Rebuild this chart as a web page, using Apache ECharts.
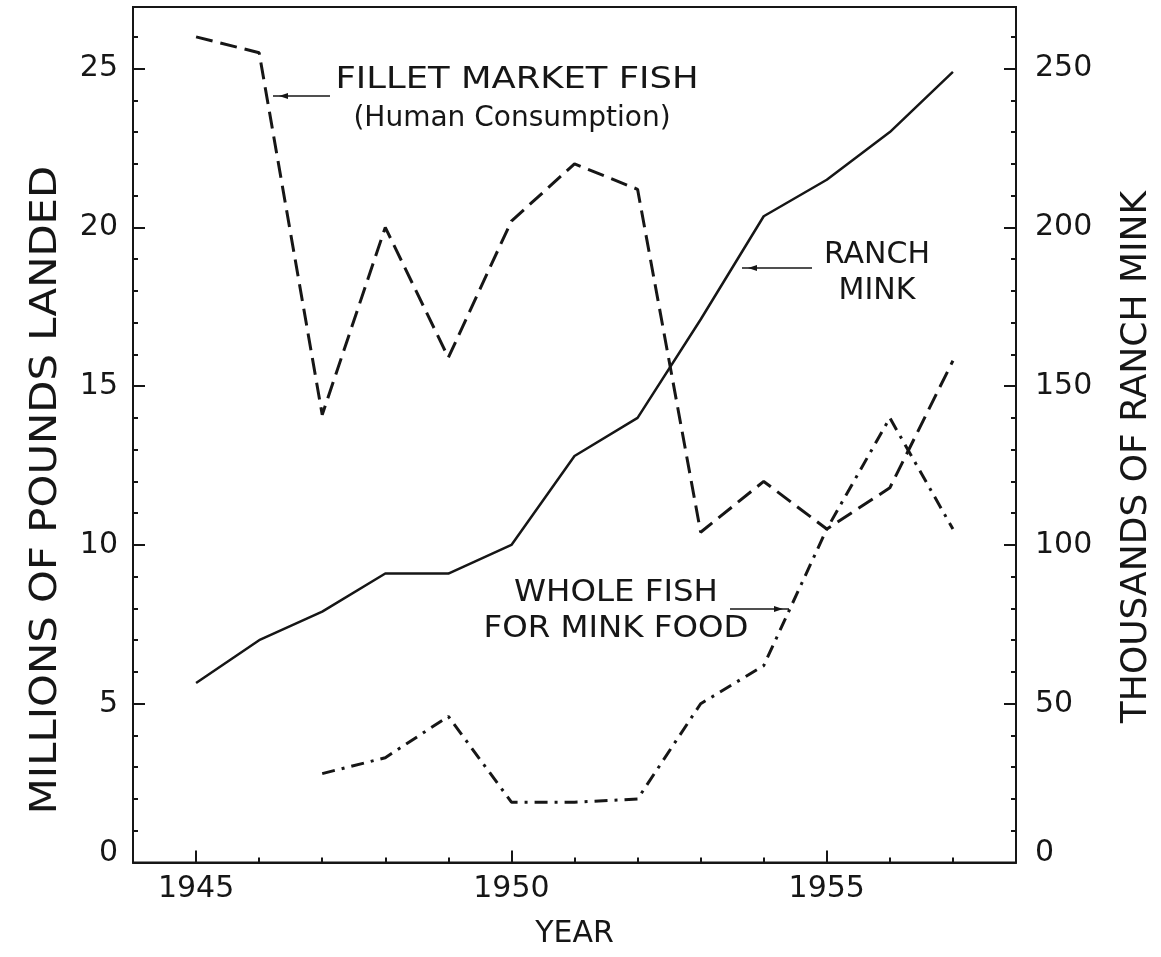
<!DOCTYPE html>
<html>
<head>
<meta charset="utf-8">
<title>Fish landed and ranch mink</title>
<script src="https://cdn.jsdelivr.net/npm/echarts@6.0.0/dist/echarts.min.js"></script>
<style>
  html, body { margin: 0; padding: 0; background: #fff; }
  #chart { width: 1161px; height: 957px; }
</style>
</head>
<body>
<div id="chart"></div>
<script>
// years on the x axis
var years = [1945, 1946, 1947, 1948, 1949, 1950, 1951, 1952, 1953, 1954, 1955, 1956, 1957]
// millions of pounds landed (left axis)
var filletFish = [26.0, 25.5, 14.1, 20.0, 15.9, 20.2, 22.0, 21.2, 10.4, 12.0, 10.5, 11.8, 15.8]
var wholeFish = [null, null, 2.8, 3.3, 4.6, 1.9, 1.9, 2.0, 5.0, 6.2, 10.5, 14.0, 10.5]
// thousands of ranch mink (right axis)
var ranchMink = [56.5, 70, 79, 91, 91, 100, 128, 140, 171, 203.5, 215, 230, 249]
// labelled ticks
var yearLabels = [1945, 1950, 1955]

var FONT = 'DejaVu Sans'
var INK = '#161616'

function pairs (values) {
  var out = []
  for (var i = 0; i < years.length; i++) {
    if (values[i] !== null) out.push([years[i], values[i]])
  }
  return out
}

// the zero labels sit a little above the axis in the original
function tickText (value) {
  return value === 0 ? '{z|0}' : String(value)
}
var zeroRich = {z: {fontFamily: FONT, fontSize: 30, color: INK, padding: [0, 0, 18, 0]}}

var chart = echarts.init(document.getElementById('chart'), null, {renderer: 'canvas'})

var xBase = {
  type: 'value',
  min: 1944,
  max: 1958,
  position: 'bottom',
  splitLine: {show: false}
}

var option = {
  animation: false,
  backgroundColor: '#fff',
  grid: {
    left: 133,
    right: 145,
    top: 7,
    bottom: 94.5,
    show: true,
    borderColor: INK,
    borderWidth: 2,
    backgroundColor: 'transparent'
  },
  xAxis: [
    // every year, short ticks
    Object.assign({}, xBase, {
      interval: 1,
      axisLine: {show: true, lineStyle: {color: INK, width: 2}},
      axisTick: {show: true, inside: true, length: 5, lineStyle: {color: INK, width: 2}},
      axisLabel: {show: false},
      name: 'YEAR',
      nameLocation: 'middle',
      nameGap: 57,
      nameTextStyle: {fontFamily: FONT, fontSize: 30, color: INK}
    }),
    // 1945, 1950, 1955 long ticks and labels
    Object.assign({}, xBase, {
      axisLine: {show: false},
      axisTick: {show: true, inside: true, length: 12, customValues: yearLabels, lineStyle: {color: INK, width: 2}},
      axisLabel: {
        show: true, customValues: yearLabels, margin: 12,
        fontFamily: FONT, fontSize: 30, color: INK,
        formatter: function (v) { return String(v) }
      }
    })
  ],
  yAxis: [
    // left, minor ticks
    {
      type: 'value', position: 'left', min: 0, max: 26.94, interval: 1,
      splitLine: {show: false},
      axisLine: {show: true, lineStyle: {color: INK, width: 2}},
      axisTick: {show: true, inside: true, length: 5, lineStyle: {color: INK, width: 2}},
      axisLabel: {show: false}
    },
    // right, minor ticks
    {
      type: 'value', position: 'right', min: 0, max: 269.4, interval: 10,
      splitLine: {show: false},
      axisLine: {show: true, lineStyle: {color: INK, width: 2}},
      axisTick: {show: true, inside: true, length: 5, lineStyle: {color: INK, width: 2}},
      axisLabel: {show: false}
    },
    // left, major ticks + labels
    {
      type: 'value', position: 'left', min: 0, max: 26.94, interval: 5,
      splitLine: {show: false},
      axisLine: {show: false},
      axisTick: {show: true, inside: true, length: 12, lineStyle: {color: INK, width: 2}},
      axisLabel: {
        show: true, showMaxLabel: false, margin: 15,
        fontFamily: FONT, fontSize: 30, color: INK,
        formatter: tickText, rich: zeroRich
      }
    },
    // right, major ticks + labels
    {
      type: 'value', position: 'right', min: 0, max: 269.4, interval: 50,
      splitLine: {show: false},
      axisLine: {show: false},
      axisTick: {show: true, inside: true, length: 12, lineStyle: {color: INK, width: 2}},
      axisLabel: {
        show: true, showMaxLabel: false, margin: 19,
        fontFamily: FONT, fontSize: 30, color: INK,
        formatter: tickText, rich: zeroRich
      }
    }
  ],
  series: [
    {
      name: 'Fillet market fish',
      type: 'line',
      xAxisIndex: 0,
      yAxisIndex: 0,
      data: pairs(filletFish),
      symbol: 'none',
      lineStyle: {color: INK, width: 3, type: [17, 8]}
    },
    {
      name: 'Whole fish for mink food',
      type: 'line',
      xAxisIndex: 0,
      yAxisIndex: 0,
      data: pairs(wholeFish),
      symbol: 'none',
      lineStyle: {color: INK, width: 3, type: [13, 7, 3, 7]}
    },
    {
      name: 'Ranch mink',
      type: 'line',
      xAxisIndex: 0,
      yAxisIndex: 1,
      data: pairs(ranchMink),
      symbol: 'none',
      lineStyle: {color: INK, width: 2.5}
    }
  ]
}

chart.setOption(option)

// labels with their little arrows
function label (text, x, y, size, sx, rot) {
  return {
    type: 'text', x: x, y: y, scaleX: sx || 1, rotation: rot || 0, z: 10,
    style: {text: text, fontFamily: FONT, fontSize: size, fill: INK, align: 'center', verticalAlign: 'middle', lineHeight: 36}
  }
}

function arrow (x1, x2, y, dir) {
  // dir: -1 head points left, 1 head points right
  var hx = x2 - dir * 6
  return [
    {type: 'line', z: 10, shape: {x1: x1, y1: y, x2: x2, y2: y}, style: {stroke: INK, lineWidth: 1.5}},
    {type: 'polygon', z: 10, shape: {points: [[hx, y], [hx - dir * 9, y - 3], [hx - dir * 9, y + 3]]}, style: {fill: INK}}
  ]
}

var graphics = [
  // axis titles, reading upwards
  label('MILLIONS OF POUNDS LANDED', 46, 490, 38, 1.1, Math.PI / 2),
  label('THOUSANDS OF RANCH MINK', 1137, 457, 36, 1, Math.PI / 2),
  label('FILLET MARKET FISH', 517, 80, 30, 1.18),
  label('(Human Consumption)', 512, 119, 28),
  label('RANCH\nMINK', 877, 273, 30),
  label('WHOLE FISH\nFOR MINK FOOD', 616, 611, 30, 1.08)
].concat(arrow(330, 273, 96, -1))
  .concat(arrow(812, 742, 268, -1))
  .concat(arrow(730, 789, 609, 1))

chart.setOption({graphic: graphics})
</script>
</body>
</html>
